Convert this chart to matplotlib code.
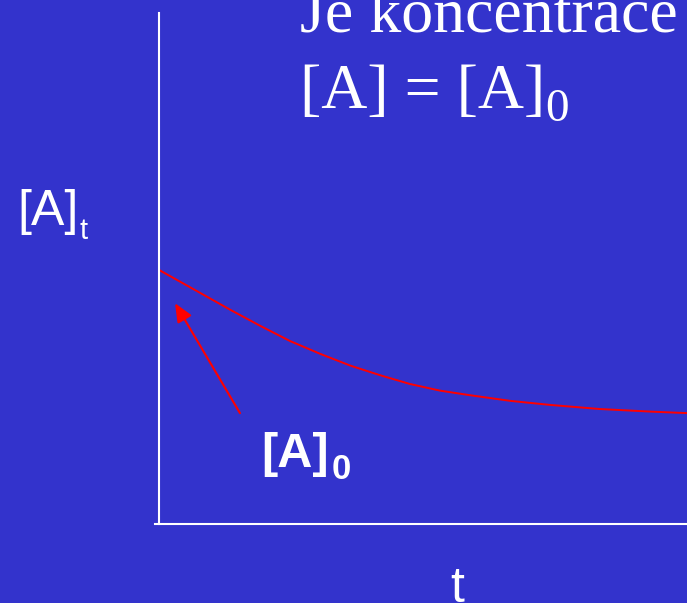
import numpy as np
import matplotlib
matplotlib.use("Agg")
import matplotlib.pyplot as plt

# concentration decay (t in arbitrary units, [A] in %)
t_vals = [0, 0.59, 1.35, 1.91, 2.48, 3.05, 3.62, 4.19, 4.75, 5.32,
          5.89, 6.65, 7.41, 8.35, 9.30, 10.0]
a_vals = [49.7, 46.3, 41.9, 38.8, 35.8, 33.3, 31.0, 29.1, 27.4, 26.1,
          25.2, 24.1, 23.3, 22.5, 22.0, 21.7]

# arrow pointing at [A]0 (tail, head) in data units
arrow_tail = (1.53, 21.7)
arrow_head = (0.30, 43.2)

bg = '#3333CC'
W, H = 687, 603

fig = plt.figure(figsize=(W / 100, H / 100), dpi=100, facecolor=bg)

def fx(px):
    return px / W

def fy(py):
    return 1 - py / H

# axes box in pixel coords of the slide
left, right, top, bottom = 155, 687, 13, 524
ax = fig.add_axes([fx(left), fy(bottom), fx(right - left), (bottom - top) / H])
ax.set_facecolor(bg)
ax.set_xlim(-0.08, 10.0)
ax.set_ylim(0, 100)

for s in ['top', 'right']:
    ax.spines[s].set_visible(False)
ax.spines['left'].set_position(('data', 0))
ax.spines['left'].set_color('white')
ax.spines['bottom'].set_color('white')
ax.spines['left'].set_linewidth(1.5)
ax.spines['bottom'].set_linewidth(1.5)
ax.set_xticks([])
ax.set_yticks([])

ax.plot(t_vals, a_vals, color='red', lw=1.4, clip_on=False,
        solid_joinstyle='round')

ax.annotate('', xy=arrow_head, xytext=arrow_tail,
            arrowprops=dict(arrowstyle='-|>,head_length=0.8,head_width=0.35',
                            mutation_scale=14, lw=1.5, color='red',
                            shrinkA=0, shrinkB=0))

sans = 'Liberation Sans'
serif = 'Liberation Serif'

# y label [A]t
fig.text(fx(17), fy(225), '[A]', color='white', fontsize=36, family=sans,
         va='baseline', ha='left')
fig.text(fx(79), fy(239), 't', color='white', fontsize=21, family=sans,
         va='baseline', ha='left')

# x label
fig.text(fx(457), fy(602), 't', color='white', fontsize=36, family=sans,
         va='baseline', ha='center')

# [A]0 annotation label
fig.text(fx(261), fy(467), '[A]', color='white', fontsize=35, family=sans,
         weight='bold', va='baseline', ha='left')
fig.text(fx(332), fy(479), '0', color='white', fontsize=25, family=sans,
         weight='bold', va='baseline', ha='left')

# title text (cut at the top of the slide)
fig.text(fx(300), fy(32), 'Je koncentrace', color='white', fontsize=46,
         family=serif, va='baseline', ha='left')
fig.text(fx(300), fy(108), '[A] = [A]', color='white', fontsize=46,
         family=serif, va='baseline', ha='left')
fig.text(fx(545), fy(121), '0', color='white', fontsize=34,
         family=serif, va='baseline', ha='left')

fig.savefig('out.png', dpi=100, facecolor=bg)
